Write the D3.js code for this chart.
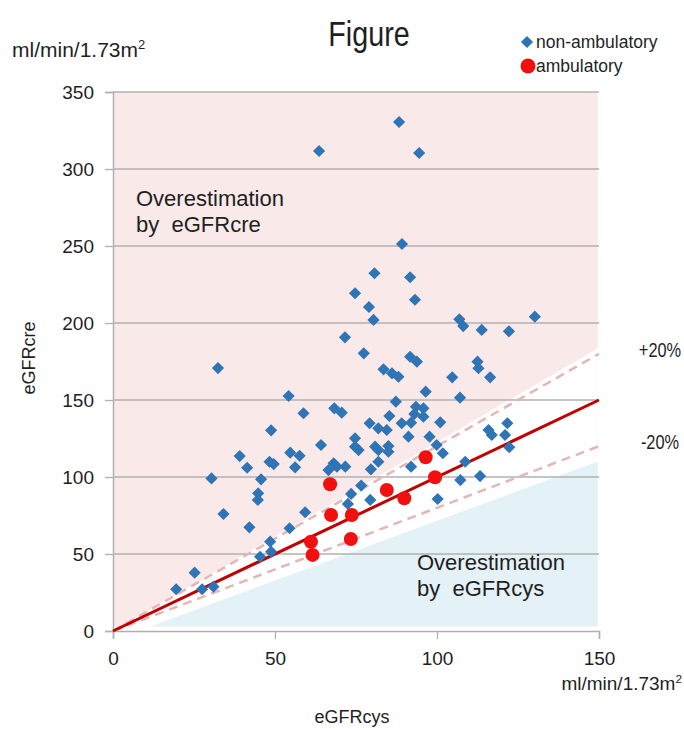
<!DOCTYPE html>
<html lang="en">
<head>
  <meta charset="UTF-8">
  <title>Figure</title>
  <script src="https://d3js.org/d3.v7.min.js"></script>
  <style>
    body { margin: 0; background: #fff; font-family: "Liberation Sans", Arial, sans-serif; }
    svg text { fill: #1f1f1f; white-space: pre; }
  </style>
</head>
<body>
  <svg id="chart" width="684" height="729"></svg>

  <script>
    // non-ambulatory patients: eGFRcys, eGFRcre
    const nonAmbCys = [88.3, 63.6, 94.5, 32.4, 89.2, 80.7, 91.7, 74.7, 93.2, 79.0,
      80.4, 106.9, 108.1, 113.8, 122.2, 130.2, 71.6, 77.4, 91.7, 93.8,
      83.5, 86.1, 88.1, 54.2, 96.5, 87.3, 58.8, 68.3, 70.6, 93.5,
      95.8, 85.3, 93.0, 48.8, 79.2, 81.9, 84.5, 89.1, 92.0, 95.8,
      74.7, 91.2, 112.5, 112.8, 104.7, 116.4, 107.1, 101.0, 97.7, 115.9,
      116.9, 121.7, 121.0, 74.7, 75.8, 64.2, 80.9, 81.9, 85.0, 85.0,
      99.9, 101.8, 122.3, 66.5, 68.1, 69.1, 71.7, 79.6, 81.9, 92.0,
      108.7, 107.2, 113.3, 100.2, 76.6, 73.5, 72.5, 79.4, 59.3, 39.1,
      54.7, 57.6, 41.4, 48.3, 49.6, 56.2, 30.4, 45.7, 44.8, 44.7,
      34.1, 42.1, 54.5, 48.5, 48.8, 45.4, 25.2, 19.5, 27.5, 31.0];
    const nonAmbCre = [330.5, 311.7, 310.4, 170.7, 251.3, 232.3, 229.7, 219.3, 215.1, 210.4,
      202.0, 202.4, 198.0, 195.5, 194.6, 204.1, 190.7, 180.3, 178.1, 174.9,
      169.9, 167.3, 165.1, 152.6, 155.4, 148.9, 141.4, 144.6, 141.8, 145.6,
      144.6, 139.6, 140.9, 130.3, 134.9, 131.6, 130.5, 134.9, 135.3, 139.2,
      125.1, 126.2, 174.9, 170.6, 164.7, 164.7, 151.5, 135.5, 126.2, 130.5,
      127.3, 134.9, 127.3, 119.7, 117.5, 120.8, 119.7, 117.5, 120.1, 116.4,
      120.8, 115.4, 119.3, 104.5, 108.9, 106.7, 106.7, 105.0, 109.9, 106.7,
      109.9, 98.0, 100.6, 85.7, 94.4, 89.0, 82.5, 85.1, 77.1, 113.6,
      115.8, 113.8, 106.0, 109.9, 108.4, 106.3, 99.1, 98.5, 89.4, 85.1,
      76.0, 67.3, 66.7, 58.0, 51.5, 48.2, 37.9, 27.1, 27.1, 28.8];

    // ambulatory patients
    const ambCys = [67.0, 67.3, 73.7, 84.5, 89.9, 96.5, 99.4, 61.1, 61.6, 73.4];
    const ambCre = [95.3, 75.3, 75.3, 91.6, 86.2, 112.8, 99.8, 58.0, 49.4, 59.7];

    const xTicks = [0, 50, 100, 150];
    const yTicks = [0, 50, 100, 150, 200, 250, 300, 350];

    const svg = d3.select("#chart");
    const x = d3.scaleLinear().domain([0, 150]).range([113, 599]);
    const y = d3.scaleLinear().domain([0, 350]).range([631, 92]);

    const poly = pts => "M" + pts.map(p => x(p[0]) + "," + y(p[1])).join("L") + "Z";

    // shaded zones
    svg.append("rect")
      .attr("x", x(0)).attr("y", y(350))
      .attr("width", x(149.6) - x(0)).attr("height", y(3) - y(350))
      .attr("fill", "#f9e9e9");
    svg.append("path")
      .attr("d", poly([[0, 0], [149.6, 183.5], [149.6, 3], [11.5, 3]]))
      .attr("fill", "#ffffff");
    svg.append("path")
      .attr("d", poly([[11.5, 3], [149.6, 3], [149.6, 110]]))
      .attr("fill", "#e4f1f6");

    // grid
    svg.append("g")
      .selectAll("line")
      .data(yTicks.filter(d => d > 0))
      .enter().append("line")
      .attr("x1", x(0)).attr("x2", x(150))
      .attr("y1", d => y(d)).attr("y2", d => y(d))
      .attr("stroke", "#b0b0b0").attr("stroke-width", 1.3);

    const yAxis = svg.append("g")
      .attr("transform", `translate(${x(0)},0)`)
      .call(d3.axisLeft(y).tickValues(yTicks).tickSize(8).tickPadding(11));
    const xAxis = svg.append("g")
      .attr("transform", `translate(0,${y(0)})`)
      .call(d3.axisBottom(x).tickValues(xTicks).tickSize(8).tickPadding(13));
    [xAxis, yAxis].forEach(a => {
      a.select(".domain").attr("stroke", "#b0b0b0").attr("stroke-width", 1.5);
      a.selectAll(".tick line").attr("stroke", "#b0b0b0").attr("stroke-width", 1.3);
      a.selectAll(".tick text").attr("font-size", 19).attr("font-family", "Liberation Sans, Arial, sans-serif").attr("fill", "#1f1f1f");
    });

    // reference lines
    const refLine = (k, color, w, dash) => svg.append("line")
      .attr("x1", x(0)).attr("y1", y(0))
      .attr("x2", x(150)).attr("y2", y(150 * k))
      .attr("stroke", color).attr("stroke-width", w)
      .attr("stroke-dasharray", dash);
    refLine(1.2, "#e4b6b6", 2.5, "9,6");
    refLine(0.8, "#e4b6b6", 2.5, "9,6");
    refLine(1.0, "#c00000", 3, null);

    // points
    const diamond = d3.symbol(d3.symbolSquare, 74);
    svg.append("g")
      .selectAll("path")
      .data(nonAmbCys.map((c, i) => [c, nonAmbCre[i]]))
      .enter().append("path")
      .attr("d", diamond)
      .attr("transform", d => `translate(${x(d[0])},${y(d[1])}) rotate(45)`)
      .attr("fill", "#2f75b5");

    svg.append("g")
      .selectAll("circle")
      .data(ambCys.map((c, i) => [c, ambCre[i]]))
      .enter().append("circle")
      .attr("cx", d => x(d[0])).attr("cy", d => y(d[1]))
      .attr("r", 7)
      .attr("fill", "#f20f0f");

    // texts
    svg.append("text")
      .attr("transform", "translate(369,46) scale(0.82,1)")
      .attr("text-anchor", "middle").attr("font-size", 35).text("Figure");

    const unit = (tx, ty, anchor, size) => {
      const t = svg.append("text").attr("x", tx).attr("y", ty)
        .attr("text-anchor", anchor).attr("font-size", size);
      t.append("tspan").text("ml/min/1.73m");
      t.append("tspan").attr("font-size", size * 0.62).attr("dy", -size * 0.38).text("2");
    };
    unit(12, 57, "start", 21);
    unit(682, 690, "end", 19);

    svg.append("text").attr("x", 352).attr("y", 723)
      .attr("text-anchor", "middle").attr("font-size", 18).text("eGFRcys");
    svg.append("text")
      .attr("transform", "translate(35,358) rotate(-90)")
      .attr("text-anchor", "middle").attr("font-size", 18).text("eGFRcre");

    svg.append("text")
      .attr("transform", "translate(660,357) scale(0.78,1)")
      .attr("text-anchor", "middle").attr("font-size", 21).text("+20%");
    svg.append("text")
      .attr("transform", "translate(660,449) scale(0.78,1)")
      .attr("text-anchor", "middle").attr("font-size", 21).text("-20%");

    const note = (tx, ty, label) => {
      const t = svg.append("text").attr("x", tx).attr("y", ty).attr("font-size", 22);
      t.append("tspan").attr("x", tx).text("Overestimation");
      t.append("tspan").attr("x", tx).attr("dy", 26).text("by  " + label);
    };
    note(136, 206, "eGFRcre");
    note(417, 570, "eGFRcys");

    // legend
    svg.append("path").attr("d", diamond)
      .attr("transform", "translate(527,42) rotate(45)").attr("fill", "#2f75b5");
    svg.append("text").attr("x", 536).attr("y", 48).attr("font-size", 17.5).text("non-ambulatory");
    svg.append("circle").attr("cx", 528).attr("cy", 66).attr("r", 7.5).attr("fill", "#f20f0f");
    svg.append("text").attr("x", 536).attr("y", 72).attr("font-size", 17.5).text("ambulatory");
  </script>
</body>
</html>
